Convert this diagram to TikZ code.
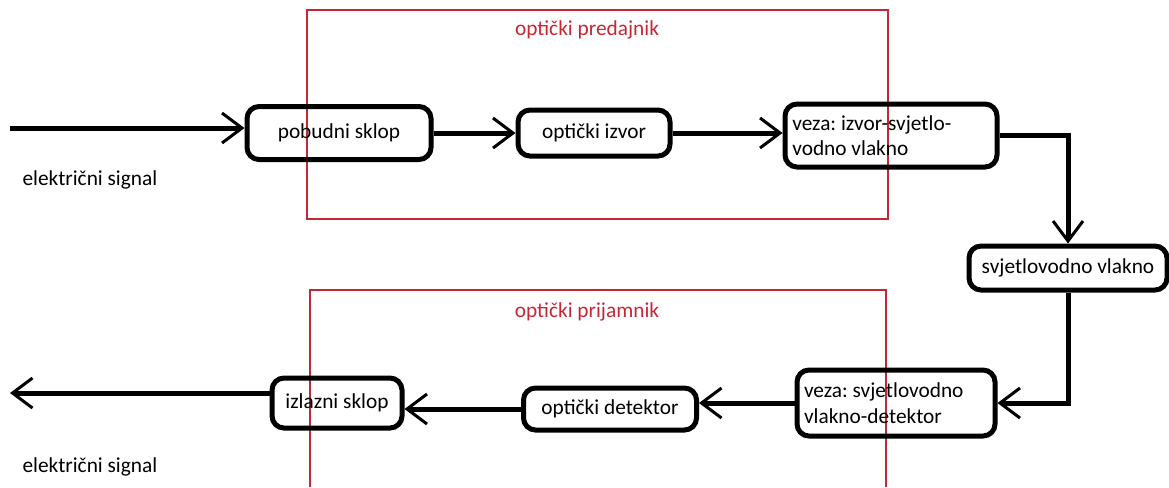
\documentclass[tikz,border=0pt]{standalone}
\usepackage{fontspec}
\setmainfont{Carlito}
\usetikzlibrary{arrows.meta}

\definecolor{okvirred}{RGB}{196,40,52}
\tikzset{every picture/.style={line width=0.75pt}}
\tikzset{
  blok/.style={draw, line width=3.75pt, rounded corners=9pt, inner sep=2pt, font=\fontsize{16}{19}\selectfont},
  tok/.style={line width=3.75pt, -{Straight Barb[length=15pt,width=22.5pt,line width=2.25pt]}},
  okvir/.style={draw=okvirred, line width=1.1pt},
  natpis/.style={anchor=west, inner sep=0pt, font=\fontsize{16}{19}\selectfont},
}
\frenchspacing

\begin{document}
\begin{tikzpicture}[x=0.75pt,y=0.75pt,yscale=-1,xscale=1]
\useasboundingbox (0,0) rectangle (1169,487);

%Shape: Rectangle (optički predajnik)
\draw [okvir] (307,10) rectangle (888,219) ;
%Shape: Rectangle (optički prijamnik), open at the bottom
\draw [okvir] (310,487) -- (310,290) -- (886,290) -- (886,487) ;

% Text Node
\node (predajnik) at (587,30) [inner sep=0.75pt, font=\fontsize{16}{19}\selectfont, text=okvirred] {optički predajnik};
% Text Node
\node (prijamnik) at (587,312) [inner sep=0.75pt, font=\fontsize{16}{19}\selectfont, text=okvirred] {optički prijamnik};

% Blocks
\node [blok, minimum width=138pt, minimum height=39.75pt] (pobudni) at (339,133) {pobudni sklop};
\node [blok, minimum width=114pt, minimum height=34.5pt] (izvor) at (594,133) {optički izvor};
\node [blok, minimum width=159pt, minimum height=47.25pt, align=flush left, text width=148pt] (vezaIzvor) at (891,135.5) {veza: izvor-svjetlo-\\vodno vlakno};
\node [blok, minimum width=148.5pt, minimum height=33pt] (vlakno) at (1068,268) {svjetlovodno vlakno};
\node [blok, minimum width=148.5pt, minimum height=49.5pt, align=flush left, text width=138pt] (vezaDet) at (896,403) {veza: svjetlovodno\\vlakno-detektor};
\node [blok, minimum width=129.75pt, minimum height=31.5pt] (detektor) at (610,409) {optički detektor};
\node [blok, minimum width=97.5pt, minimum height=37.5pt] (izlazni) at (337,403) {izlazni sklop};

% Text Node
\node [natpis] (signalUl) at (22,180) {električni signal};
% Text Node
\node [natpis] (signalIz) at (22,467) {električni signal};

% free ends of the signal lines
\coordinate (ulaz) at (10,128);
\coordinate (izlaz) at (10,393);

% Connectors
\draw [tok] (ulaz) -- (ulaz -| pobudni.west) ;
\draw [tok] (pobudni.east) -- (izvor.west) ;
\draw [tok] (izvor.east) -- (izvor.east -| vezaIzvor.west) ;
\draw [tok] (vezaIzvor.east) -| (vlakno.north) ;
\draw [tok] (vlakno.south) |- (vezaDet.east) ;
\draw [tok] (vezaDet.west) -- (vezaDet.west -| detektor.east) ;
\draw [tok] (detektor.west) -- (detektor.west -| izlazni.east) ;
\draw [tok] (izlaz -| izlazni.west) -- (izlaz) ;

\end{tikzpicture}
\end{document}
